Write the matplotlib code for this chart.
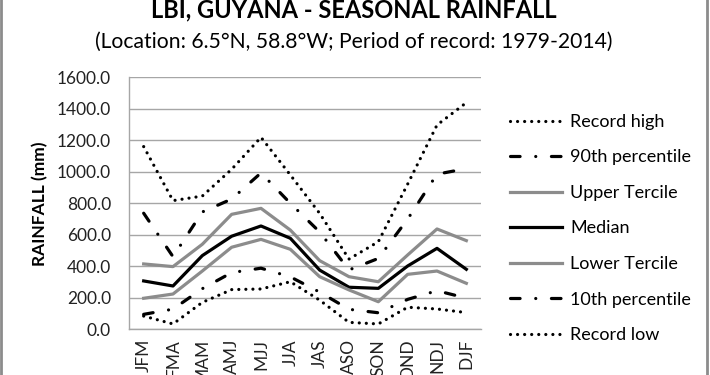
import matplotlib
matplotlib.use('Agg')
import matplotlib.pyplot as plt
from matplotlib.lines import Line2D

plt.rcParams['font.family'] = ['Lato', 'DejaVu Sans']

seasons = ['JFM', 'FMA', 'MAM', 'AMJ', 'MJJ', 'JJA', 'JAS', 'ASO', 'SON', 'OND', 'NDJ', 'DJF']
record_high = [1160, 817, 846, 1016, 1219, 980, 736, 446, 556, 922, 1297, 1439]
p90 = [737, 461, 745, 827, 993, 800, 618, 377, 450, 700, 985, 1020]
upper_tercile = [415, 398, 540, 730, 768, 630, 436, 334, 302, 472, 637, 563]
median = [307, 275, 468, 591, 656, 578, 376, 267, 260, 402, 514, 381]
lower_tercile = [197, 224, 370, 521, 571, 508, 334, 250, 175, 349, 370, 292]
p10 = [95, 128, 258, 360, 388, 333, 236, 127, 105, 190, 245, 198]
record_low = [84, 34, 171, 252, 256, 302, 185, 44, 34, 140, 129, 106]

yticks = [0, 200, 400, 600, 800, 1000, 1200, 1400, 1600]

fig = plt.figure(figsize=(7.1, 3.75), dpi=100)
ax = fig.add_axes([129/710, 1 - 329.3/375, 352/710, 252/375])

x = range(len(seasons))
lw = 2.3
dotted = (0, (0.01, 2.2))
dashdot = (0, (3, 4.9, 0.01, 4.9))
gray = '#8c8c8c'

ax.plot(x, record_high, color='black', lw=lw, ls=dotted, dash_capstyle='round', label='Record high')
ax.plot(x, p90, color='black', lw=lw, ls=dashdot, dash_capstyle='round', label='90th percentile')
ax.plot(x, upper_tercile, color=gray, lw=lw, label='Upper Tercile')
ax.plot(x, median, color='black', lw=lw, label='Median')
ax.plot(x, lower_tercile, color=gray, lw=lw, label='Lower Tercile')
ax.plot(x, p10, color='black', lw=lw, ls=dashdot, dash_capstyle='round', label='10th percentile')
ax.plot(x, record_low, color='black', lw=lw, ls=dotted, dash_capstyle='round', label='Record low')

ax.set_xlim(-0.5, len(seasons) - 0.5)
ax.set_ylim(0, 1600)
ax.set_yticks(yticks)
ax.set_yticklabels(['%.1f' % v for v in yticks], fontsize=12.5, color='#222222')
ax.set_xticks(list(x))
ax.set_xticklabels(seasons, rotation=90, fontsize=12.5, color='#222222')
ax.tick_params(axis='y', length=0, pad=13)
ax.tick_params(axis='x', length=0, pad=7)
ax.grid(axis='y', color='#a6a6a6', lw=1)
ax.set_axisbelow(True)
for s in ['top', 'right']:
    ax.spines[s].set_visible(False)
for s in ['left', 'bottom']:
    ax.spines[s].set_color('#a6a6a6')
    ax.spines[s].set_linewidth(1)

fig.text(40/710, 1 - 204/375, 'RAINFALL (mm)', rotation=90, ha='center', va='center',
         fontsize=12.5, fontweight='bold')
fig.text(354/710, 1 - 10/375, 'LBI, GUYANA - SEASONAL RAINFALL', ha='center', va='center',
         fontsize=17, fontweight='bold')
fig.text(354/710, 1 - 42/375, '(Location: 6.5°N, 58.8°W; Period of record: 1979-2014)',
         ha='center', va='center', fontsize=15.2)

ax.legend(loc='center left', bbox_to_anchor=(510/710, 1 - 228.5/375), bbox_transform=fig.transFigure,
          frameon=False, fontsize=13, handlelength=2.9, handletextpad=0.45,
          labelspacing=1.08, borderpad=0, borderaxespad=0)

fig.add_artist(Line2D([1/710, 1/710], [0, 1], color='#8c8c8c', lw=2, transform=fig.transFigure))
fig.add_artist(Line2D([707/710, 707/710], [0, 1], color='#8c8c8c', lw=2, transform=fig.transFigure))

fig.savefig('out.png', dpi=100)
